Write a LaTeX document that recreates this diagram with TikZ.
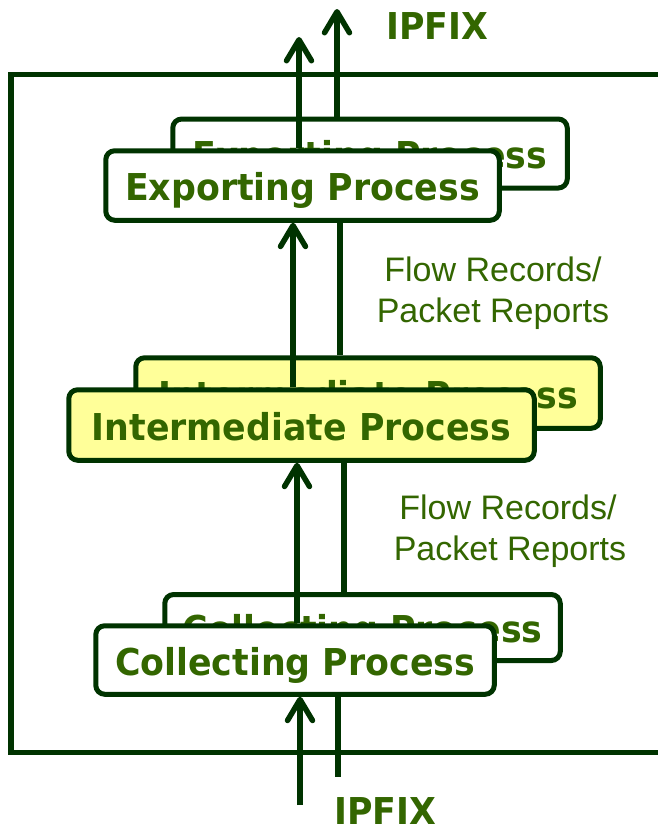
\documentclass[tikz,border=0pt]{standalone}
\usepackage{fontspec}
\usetikzlibrary{arrows.meta}
\newfontfamily\boxfont{DejaVu Sans}[UprightFont={* Bold},FakeStretch=0.94]
\newfontfamily\lblfont{Liberation Sans}
\definecolor{dkgreen}{HTML}{003300}
\definecolor{txgreen}{HTML}{336600}
\definecolor{boxyellow}{HTML}{FFFF99}
\pgfdeclarelayer{backlayer}
\pgfdeclarelayer{midlayer}
\pgfsetlayers{backlayer,midlayer,main}
\begin{document}
\begin{tikzpicture}[x=1pt,y=-1pt,
  procbox/.style={draw=dkgreen, line width=5pt, rounded corners=9pt, fill=white,
    inner sep=0pt, text height=30pt, text depth=0pt, text=txgreen,
    font=\boxfont\fontsize{37}{40}\selectfont},
  ybox/.style={procbox, fill=boxyellow},
  plainline/.style={draw=dkgreen, line width=5.5pt},
  arr/.style={plainline, -{Straight Barb[length=21pt,width=25pt,round]}},
  lbl/.style={text=txgreen, font=\lblfont\fontsize{34}{36}\selectfont, inner sep=0pt, anchor=base},
  ipfix/.style={text=txgreen, font=\boxfont\fontsize{37}{40}\selectfont, inner sep=0pt, anchor=base}]
\useasboundingbox (0,0) rectangle (658,828);
\begin{pgfonlayer}{backlayer}
\fill[white] (0,0) rectangle (658,828);
% frame
\draw[plainline, line cap=butt] (658,74.5) -- (11,74.5) -- (11,752.5) -- (658,752.5);
% back boxes
\node[procbox, minimum width=394.5pt, minimum height=69pt] (expB) at (370,153.5) {Exporting Process};
\node[ybox, minimum width=464.5pt, minimum height=70.5pt] (intB) at (368,393) {Intermediate Process};
\node[procbox, minimum width=395.5pt, minimum height=66pt] (collB) at (362.5,627.5) {Collecting Process};
\end{pgfonlayer}
% front boxes
\node[procbox, minimum width=393.5pt, minimum height=69.5pt] (expF) at (302.5,185.5) {Exporting Process};
\node[ybox, minimum width=465.5pt, minimum height=70.5pt] (intF) at (301.5,425) {Intermediate Process};
\node[procbox, minimum width=398.5pt, minimum height=68.5pt] (collF) at (295,660) {Collecting Process};
% free ends
\coordinate (tipA) at (299,37);
\coordinate (tipB) at (337,9);
\coordinate (srcA) at (300,805);
\coordinate (endB) at (338,777);
% connectors
\begin{pgfonlayer}{midlayer}
\draw[arr] ([xshift=-3.5pt]expF.north) -- (tipA);
\draw[arr] ([xshift=-33pt]expB.north) -- (tipB);
\draw[plainline] ([xshift=-28pt]intB.north) -- ([xshift=-30pt]expB.south);
\draw[plainline] ([xshift=-18.5pt]collB.north) -- ([xshift=-24pt]intB.south);
\draw[plainline] ([xshift=-24.5pt]collB.south) -- (endB);
\draw[arr] ([xshift=-8.5pt]intF.north) -- ([xshift=-9.5pt]expF.south);
\draw[arr] ([xshift=2pt]collF.north) -- ([xshift=-4.5pt]intF.south);
\draw[arr] (srcA) -- ([xshift=5pt]collF.south);
\end{pgfonlayer}
% labels
\node[lbl] (l1a) at (493,281.5) {Flow Records/};
\node[lbl] (l1b) at (493,322.5) {Packet Reports};
\node[lbl] (l2a) at (508,519) {Flow Records/};
\node[lbl] (l2b) at (510,560.5) {Packet Reports};
\node[ipfix] (ipT) at (437.5,39) {IPFIX};
\node[ipfix] (ipB) at (385.5,824) {IPFIX};
\end{tikzpicture}
\end{document}
